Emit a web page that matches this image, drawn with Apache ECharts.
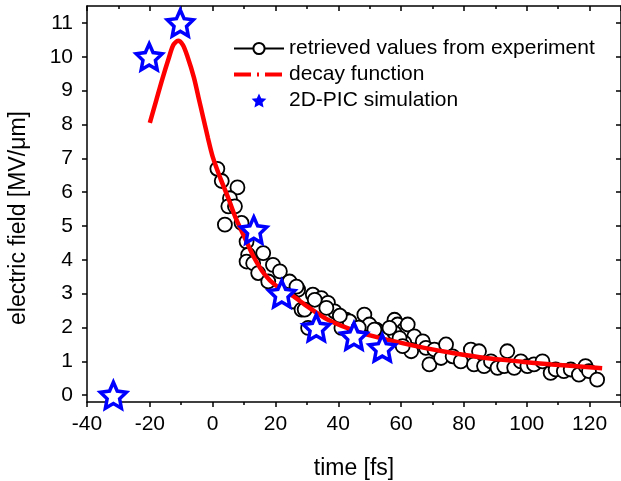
<!DOCTYPE html>
<html lang="en">
<head>
    <meta charset="UTF-8">
    <title>electric field decay</title>
    <script src="https://cdn.jsdelivr.net/npm/echarts@6/dist/echarts.min.js"></script>
    <style>
        html, body { margin: 0; padding: 0; background: #fff; }
    </style>
</head>
<body>
<div id="main" style="width: 621px;height:481px;"></div>

<script type="text/javascript">
    // retrieved values from experiment [time fs, field MV/um]
    var expData = [
        [1.5, 6.69], [2.9, 6.33], [7.9, 6.14], [5.5, 5.82], [5.0, 5.58], [7.1, 5.58],
        [3.9, 5.04], [9.2, 5.09], [10.8, 4.54], [11.3, 4.15], [10.8, 3.95], [16.1, 4.2],
        [12.9, 3.9], [14.5, 3.61], [19.2, 3.85], [21.4, 3.66], [17.7, 3.36], [24.5, 3.36],
        [27.2, 3.12], [25.6, 2.77], [28.3, 2.53],
        [26.7, 3.21], [31.9, 2.97], [34.6, 2.87], [36.7, 2.73], [38.8, 2.48], [29.3, 2.53],
        [30.4, 1.99], [42.5, 2.23], [44.6, 2.04], [48.3, 2.38], [49.9, 2.09], [52.1, 1.94],
        [57.9, 2.23], [58.9, 2.09], [61.0, 1.94], [62.1, 2.09], [57.9, 1.84], [64.2, 1.74],
        [61.0, 1.55], [63.2, 1.30], [66.9, 1.59], [41.0, 1.99], [32.5, 2.82], [36.2, 2.58],
        [43.6, 2.18], [51.5, 1.94], [56.3, 1.99], [59.5, 1.69], [60.5, 1.45], [67.9, 1.40],
        [40.5, 2.35], [46.5, 2.0],
        [69.0, 0.91], [70.6, 1.35], [74.3, 1.5], [72.7, 1.10], [76.4, 1.15], [79.0, 1.0],
        [82.2, 1.35], [84.8, 1.30], [83.2, 0.91], [86.4, 0.86], [88.6, 1.0], [90.7, 0.81],
        [93.8, 1.30], [92.8, 0.86], [96.0, 0.81], [98.1, 1.0], [100.2, 0.86], [102.3, 0.91],
        [105.0, 1.0], [107.6, 0.66], [109.2, 0.76], [111.8, 0.71], [114.0, 0.76], [116.6, 0.61],
        [118.7, 0.86], [119.8, 0.71], [122.4, 0.46]
    ];
    // decay function
    var decayData = [
        [-20, 8.05], [-18, 8.7], [-16, 9.35], [-14, 9.95], [-12.5, 10.35], [-11, 10.47],
        [-9.5, 10.35], [-8, 10.0], [-6, 9.4], [-4.5, 8.8], [-3, 8.2], [-1.5, 7.6], [0, 7.05],
        [2.5, 6.4], [5, 5.82], [7.5, 5.2], [10.3, 4.64], [13, 4.1], [16.6, 3.56], [20, 3.25],
        [26.1, 2.9], [29.3, 2.68], [36.7, 2.23], [47.3, 1.84], [57.9, 1.59], [67.4, 1.40],
        [76.4, 1.25], [87, 1.10], [97.6, 1.0], [108, 0.91], [124, 0.8]
    ];
    // 2D-PIC simulation
    var picData = [
        [-31.6, 0.0], [-20.2, 10.0], [-10.3, 11.0], [13.1, 4.88], [22.0, 3.0],
        [33.0, 2.0], [45.0, 1.75], [54.0, 1.4]
    ];
    var yMajor = [0, 1, 2, 3, 4, 5, 6, 7, 8, 9, 10, 11];
    var yMinor = [-0.5, 0.5, 1.5, 2.5, 3.5, 4.5, 5.5, 6.5, 7.5, 8.5, 9.5, 10.5, 11.5];

    var star = 'path://M50 0 L64.1 30.6 L97.55 34.55 L72.8 57.4 L79.39 90.45 L50 74 L20.61 90.45 L27.2 57.4 L2.45 34.55 L35.9 30.6 Z';
    var font = 'Arial, "Liberation Sans", sans-serif';

    var myChart = echarts.init(document.getElementById('main'));

    var yBase = {
        type: 'value', min: -0.2, max: 11.5,
        splitLine: { show: false }
    };

    var option = {
        animation: false,
        grid: { left: 87, right: 0, top: 6, bottom: 79, outerBoundsMode: 'none' },
        legend: {
            orient: 'vertical',
            left: 232,
            top: 38,
            padding: 0,
            itemWidth: 50,
            itemHeight: 14,
            itemGap: 5,
            textStyle: { fontFamily: font, fontSize: 21, color: '#000' },
            data: [
                { name: 'retrieved values from experiment',
                  lineStyle: { color: '#000', width: 2, opacity: 1 } },
                { name: 'decay function',
                  lineStyle: { color: '#f00', width: 4, type: [17, 6, 2, 6] },
                  itemStyle: { color: 'rgba(0,0,0,0)', borderWidth: 0 } },
                { name: '2D-PIC simulation', icon: star,
                  itemStyle: { color: '#0000ff', borderWidth: 0 } }
            ]
        },
        xAxis: [{
            type: 'value', min: -40, max: 130, interval: 20,
            name: 'time [fs]', nameLocation: 'middle', nameGap: 55,
            nameTextStyle: { fontFamily: font, fontSize: 23, color: '#000' },
            axisLine: { onZero: false, lineStyle: { color: '#000', width: 1.5 } },
            axisTick: { inside: false, length: 5, lineStyle: { width: 1.5 } },
            minorTick: { show: true, splitNumber: 2, length: 3, lineStyle: { color: '#000', width: 1.5 } },
            axisLabel: { fontFamily: font, fontSize: 21, color: '#000', margin: 12, showMaxLabel: false },
            splitLine: { show: false }
        }, {
            type: 'value', min: -40, max: 130, interval: 20, position: 'top',
            axisLine: { onZero: false, lineStyle: { color: '#000', width: 1.5 } },
            axisTick: { inside: true, length: 5, lineStyle: { width: 1.5 } },
            minorTick: { show: true, splitNumber: 2, length: 3, lineStyle: { color: '#000', width: 1.5 } },
            axisLabel: { show: false },
            splitLine: { show: false }
        }],
        yAxis: [Object.assign({}, yBase, {
            name: 'electric field [MV/\u03bcm]', nameLocation: 'middle', nameGap: 57,
            nameTextStyle: { fontFamily: font, fontSize: 23, color: '#000', padding: [0, 28, 0, 0] },
            axisLine: { show: true, onZero: false, lineStyle: { color: '#000', width: 1.5 } },
            axisTick: { show: true, length: 5, lineStyle: { width: 1.5 }, customValues: yMajor },
            axisLabel: { fontFamily: font, fontSize: 21, color: '#000', margin: 14, customValues: yMajor }
        }), Object.assign({}, yBase, {
            axisLine: { show: false, onZero: false },
            axisTick: { show: true, length: 3, lineStyle: { color: '#000', width: 1.5 }, customValues: yMinor },
            axisLabel: { show: false }
        }), Object.assign({}, yBase, {
            position: 'right',
            axisLine: { show: true, onZero: false, lineStyle: { color: '#000', width: 1.5 } },
            axisTick: { show: true, inside: true, length: 5, lineStyle: { width: 1.5 }, customValues: yMajor },
            axisLabel: { show: false }
        })],
        series: [{
            name: 'retrieved values from experiment',
            type: 'line',
            data: expData,
            symbol: 'circle',
            symbolSize: 14,
            showAllSymbol: true,
            lineStyle: { opacity: 0 },
            itemStyle: { color: '#fff', borderColor: '#000', borderWidth: 1.8 },
            z: 2
        }, {
            name: 'decay function',
            type: 'line',
            data: decayData,
            smooth: 0.3,
            symbol: 'none',
            lineStyle: { color: '#f00', width: 4.5 },
            itemStyle: { color: '#f00' },
            z: 3
        }, {
            name: '2D-PIC simulation',
            type: 'scatter',
            data: picData,
            symbol: star,
            symbolSize: 26,
            itemStyle: { color: '#fff', borderColor: '#0000ff', borderWidth: 3.5, opacity: 1 },
            z: 4
        }]
    };
    myChart.setOption(option);
</script>
</body>
</html>
